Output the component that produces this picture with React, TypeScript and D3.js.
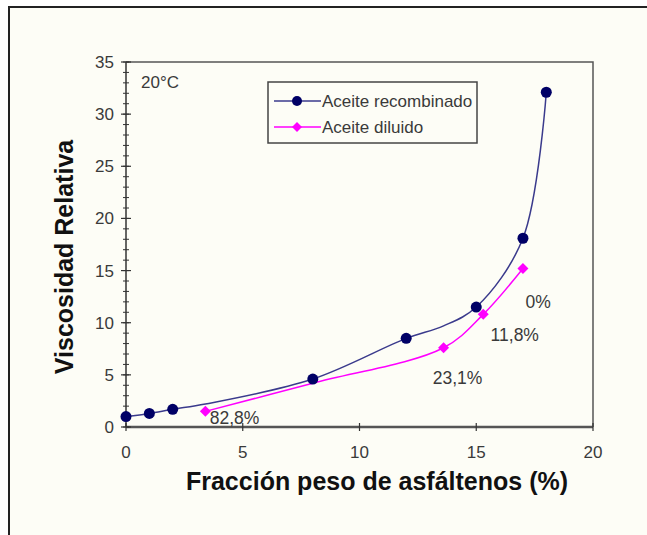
import React from "react";
import * as d3 from "d3";

const recombX = [0, 1, 2, 8, 12, 15, 17, 18];
const recombY = [1.0, 1.3, 1.7, 4.6, 8.5, 11.5, 18.1, 32.1];
const recombCurveX = [0, 1, 2, 3.4, 8, 12, 13.6, 15, 17, 18];
const recombCurveY = [1.0, 1.3, 1.7, 2.2, 4.6, 8.5, 9.7, 11.5, 18.1, 32.1];

const dilX = [3.4, 13.6, 15.3, 17];
const dilY = [1.5, 7.6, 10.8, 15.2];
const dilCurveX = [3.4, 8, 13.6, 15.3, 17];
const dilCurveY = [1.5, 4.2, 7.6, 10.8, 15.2];

const xTicks = [0, 5, 10, 15, 20];
const yTicks = [0, 5, 10, 15, 20, 25, 30, 35];
const yMinor = d3.range(0, 36, 1);

const annotations = [
  { text: "82,8%", x: 4.65, y: 0.3 },
  { text: "23,1%", x: 14.2, y: 4.1 },
  { text: "11,8%", x: 16.65, y: 8.25 },
  { text: "0%", x: 17.65, y: 11.4 },
];

const legendItems = ["Aceite recombinado", "Aceite diluido"];

const FONT = "Liberation Sans, Arial, sans-serif";

export default function App() {
  const W = 647, H = 535;
  const left = 126, right = 593, top = 62, bottom = 427;
  const x = d3.scaleLinear().domain([0, 20]).range([left, right]);
  const y = d3.scaleLinear().domain([0, 35]).range([bottom, top]);

  const line = d3
    .line<[number, number]>()
    .x((d) => x(d[0]))
    .y((d) => y(d[1]))
    .curve(d3.curveCatmullRom.alpha(0.5));

  const recombPath = line(recombCurveX.map((v, i) => [v, recombCurveY[i]]))!;
  const dilPath = line(dilCurveX.map((v, i) => [v, dilCurveY[i]]))!;

  const blue = "#000066";
  const blueLine = "#3a3a8c";
  const pink = "#ff00ff";
  const axisCol = "#555555";
  const textCol = "#3a3a3a";
  const diamond = (cx: number, cy: number, r: number) =>
    `M${cx},${cy - r}L${cx + r},${cy}L${cx},${cy + r}L${cx - r},${cy}Z`;

  return (
    <svg
      width={W}
      height={H}
      style={{ position: "absolute", left: 0, top: 0, display: "block" }}
    >
      <rect x={0} y={0} width={W} height={H} fill="#ffffff" />
      <rect x={9} y={7} width={W + 20} height={H + 20} fill="#fdfdf6" stroke="#222" strokeWidth={2} />

      {/* plot frame: top & right */}
      <path d={`M${left},${top}H${right}V${bottom}`} fill="none" stroke={axisCol} strokeWidth={1.5} />
      {/* x axis */}
      <line x1={left} x2={right} y1={bottom} y2={bottom} stroke={axisCol} strokeWidth={2.5} />
      {xTicks.map((t) => (
        <g key={"xt" + t}>
          <line x1={x(t)} x2={x(t)} y1={bottom - 4} y2={bottom + 4} stroke="#333" strokeWidth={1.2} />
          <text x={x(t)} y={bottom + 31} textAnchor="middle" fontFamily={FONT} fontSize={17} fill={textCol}>
            {t}
          </text>
        </g>
      ))}
      {/* y axis */}
      <line x1={left} x2={left} y1={top} y2={bottom} stroke="#333" strokeWidth={1.5} />
      {yMinor.map((t) => (
        <line key={"ym" + t} x1={left - 3} x2={left + 3} y1={y(t)} y2={y(t)} stroke="#333" strokeWidth={1} />
      ))}
      {yTicks.map((t) => (
        <g key={"yt" + t}>
          <line x1={left - 5} x2={left + 5} y1={y(t)} y2={y(t)} stroke="#333" strokeWidth={1.2} />
          <text x={left - 12} y={y(t) + 6} textAnchor="end" fontFamily={FONT} fontSize={17} fill={textCol}>
            {t}
          </text>
        </g>
      ))}

      {/* axis titles */}
      <text x={377} y={490} textAnchor="middle" fontFamily={FONT} fontSize={25} fontWeight="bold" fill="#111">
        Fracción peso de asfáltenos (%)
      </text>
      <text
        transform={`translate(73,257) rotate(-90)`}
        textAnchor="middle"
        fontFamily={FONT}
        fontSize={25}
        fontWeight="bold"
        fill="#111"
      >
        Viscosidad Relativa
      </text>

      <text x={141} y={88} fontFamily={FONT} fontSize={17} fill={textCol}>
        20°C
      </text>

      {/* series */}
      <path d={recombPath} fill="none" stroke={blueLine} strokeWidth={1.5} />
      <path d={dilPath} fill="none" stroke={pink} strokeWidth={1.5} />
      {recombX.map((v, i) => (
        <circle key={"r" + i} cx={x(v)} cy={y(recombY[i])} r={5.5} fill={blue} />
      ))}
      {dilX.map((v, i) => (
        <path key={"d" + i} d={diamond(x(v), y(dilY[i]), 5.5)} fill={pink} />
      ))}

      {annotations.map((a) => (
        <text key={a.text} x={x(a.x)} y={y(a.y)} textAnchor="middle" fontFamily={FONT} fontSize={17.5} fill={textCol}>
          {a.text}
        </text>
      ))}

      {/* legend */}
      <rect x={268} y={82} width={209} height={61} fill="#fdfdf6" stroke="#444" strokeWidth={1.5} />
      {legendItems.map((name, i) => {
        const ly = 101 + i * 26;
        return (
          <g key={name}>
            <line x1={274} x2={321} y1={ly} y2={ly} stroke={i === 0 ? blueLine : pink} strokeWidth={1.5} />
            {i === 0 ? (
              <circle cx={297} cy={ly} r={5} fill={blue} />
            ) : (
              <path d={diamond(297, ly, 5)} fill={pink} />
            )}
            <text x={322} y={ly + 6} fontFamily={FONT} fontSize={17} fill={textCol}>
              {name}
            </text>
          </g>
        );
      })}
    </svg>
  );
}
